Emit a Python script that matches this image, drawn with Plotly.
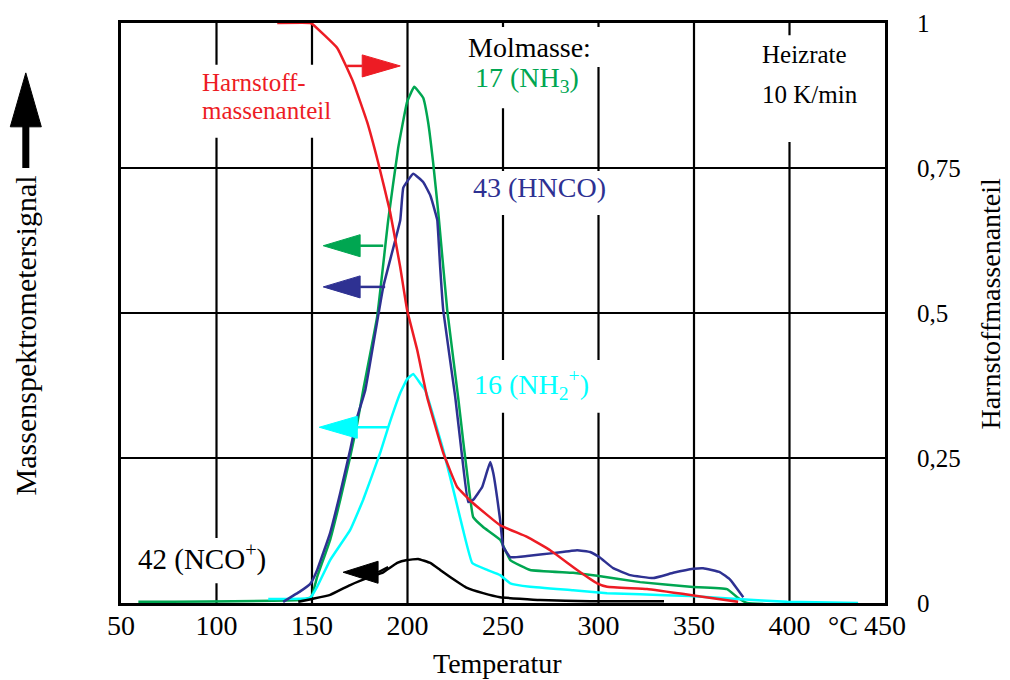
import plotly.graph_objects as go

# ---------------- data ----------------
red_x = [131.8, 149.1, 150.6, 163.2, 171.6, 178.9, 184.6, 190.9, 196.2, 199.8, 205.1, 210.3,
         218.7, 226.0, 234.4, 248.5, 262.6, 274.7, 288.8, 299.3, 304.5, 325.4, 351.6, 373.1]
red_y = [1.0, 1.0, 0.997, 0.957, 0.898, 0.829, 0.760, 0.674, 0.579, 0.505, 0.436, 0.355,
         0.259, 0.200, 0.172, 0.134, 0.114, 0.091, 0.057, 0.034, 0.028, 0.024, 0.012, 0.002]

green_x = [59.1, 143.8, 149.6, 152.7, 159.5, 164.8, 170.0, 173.7, 176.8, 184.1, 189.9, 195.1,
           199.8, 203.5, 208.2, 210.8, 213.4, 216.1, 220.8, 226.5, 229.1, 231.2, 234.4, 239.6,
           248.5, 253.8, 264.2, 286.7, 299.3, 321.8, 348.0, 367.3, 372.6, 377.8, 398.7, 435.9]
green_y = [0.002, 0.005, 0.010, 0.045, 0.109, 0.178, 0.252, 0.310, 0.367, 0.493, 0.660, 0.784,
           0.864, 0.890, 0.871, 0.829, 0.760, 0.674, 0.505, 0.355, 0.281, 0.224, 0.148, 0.131,
           0.109, 0.074, 0.057, 0.052, 0.047, 0.036, 0.028, 0.024, 0.010, 0.000, -0.003, -0.005]

blue_x = [134.9, 143.8, 149.1, 152.7, 159.5, 164.8, 170.0, 173.7, 177.9, 187.3, 196.2, 197.8,
          203.0, 208.2, 211.9, 214.5, 215.6, 217.1, 218.7, 225.0, 228.6, 231.8, 234.4, 239.1,
          243.3, 244.9, 248.5, 250.1, 253.8, 262.6, 276.3, 288.8, 295.6, 300.9, 307.7, 316.6,
          328.6, 339.1, 349.6, 354.8, 363.7, 369.0, 375.8]
blue_y = [0.002, 0.020, 0.033, 0.057, 0.121, 0.190, 0.264, 0.321, 0.367, 0.545, 0.660, 0.716,
          0.740, 0.726, 0.703, 0.674, 0.660, 0.579, 0.505, 0.355, 0.252, 0.174, 0.178, 0.200,
          0.243, 0.224, 0.143, 0.097, 0.079, 0.081, 0.086, 0.091, 0.088, 0.078, 0.060, 0.048,
          0.043, 0.052, 0.059, 0.060, 0.053, 0.040, 0.010]

cyan_x = [127.1, 149.1, 152.7, 159.5, 170.0, 176.8, 185.7, 189.9, 196.2, 199.8, 203.0, 206.6,
          209.3, 218.7, 224.0, 229.1, 233.9, 241.7, 248.5, 253.8, 264.2, 286.7, 304.5, 321.8,
          348.0, 372.6, 398.7, 435.9]
cyan_y = [0.007, 0.009, 0.028, 0.074, 0.126, 0.178, 0.259, 0.303, 0.362, 0.386, 0.395, 0.379,
          0.367, 0.264, 0.195, 0.126, 0.069, 0.057, 0.048, 0.034, 0.028, 0.022, 0.017, 0.015,
          0.012, 0.007, 0.002, 0.000]

black_x = [142.8, 150.1, 159.5, 170.0, 180.5, 187.3, 194.6, 199.8, 205.6, 211.9, 217.1, 222.3,
           231.2, 239.6, 248.5, 269.5, 295.6, 334.3]
black_y = [0.002, 0.007, 0.014, 0.031, 0.045, 0.053, 0.069, 0.074, 0.076, 0.069, 0.057, 0.045,
           0.026, 0.017, 0.010, 0.005, 0.003, 0.003]

x_ticks = [50, 100, 150, 200, 250, 300, 350, 400, 450]
x_ticktext = ["50", "100", "150", "200", "250", "300", "350", "400", "450"]
y2_ticks = [0, 0.25, 0.5, 0.75, 1]
y2_ticktext = ["0", "0,25", "0,5", "0,75", "1"]

RED = "#ED1C24"
GREEN = "#00A651"
BLUE = "#2E3192"
CYAN = "#00FFFF"
BLACK = "#000000"
FONT = "Liberation Serif, Times New Roman, serif"

fig = go.Figure()

series = [
    (green_x, green_y, GREEN, "y"),
    (cyan_x, cyan_y, CYAN, "y"),
    (blue_x, blue_y, BLUE, "y"),
    (black_x, black_y, BLACK, "y"),
    (red_x, red_y, RED, "y2"),
]
for xs, ys, col, ax in series:
    fig.add_trace(go.Scatter(x=xs, y=ys, mode="lines", yaxis=ax,
                             line=dict(color=col, width=2.5, shape="spline", smoothing=0.3),
                             showlegend=False, hoverinfo="skip"))

shapes = []
# grid lines
for xv in x_ticks[1:-1]:
    shapes.append(dict(type="line", xref="x", yref="y", x0=xv, x1=xv, y0=0, y1=1,
                       line=dict(color="black", width=2.2), layer="below"))
for yv in y2_ticks[1:-1]:
    shapes.append(dict(type="line", xref="x", yref="y", x0=50, x1=450, y0=yv, y1=yv,
                       line=dict(color="black", width=2.2), layer="below"))
# white gaps in the grid behind the labels
gaps = [
    (91.5, 162.2, 0.802, 0.928),
    (230.2, 301.9, 0.924, 0.993),
    (230.2, 295.6, 0.853, 0.924),
    (382.0, 439.5, 0.795, 0.979),
    (230.2, 311.3, 0.669, 0.745),
    (230.2, 302.5, 0.328, 0.419),
    (54.9, 133.4, 0.034, 0.112),
]
for x0, x1, y0, y1 in gaps:
    shapes.append(dict(type="rect", xref="x", yref="y", x0=x0, x1=x1, y0=y0, y1=y1,
                       fillcolor="white", line=dict(width=0), layer="below"))

# arrows: (tail_x, tail_y, base_x, tip_x, y, colour)
arrows = [
    (168.4, 0.926, 176.3, 196.2, 0.926, RED),
    (187.3, 0.616, 175.2, 155.9, 0.616, GREEN),
    (188.3, 0.545, 175.2, 155.9, 0.545, BLUE),
    (189.9, 0.303, 173.7, 153.8, 0.303, CYAN),
    (189.9, 0.062, 184.6, 166.3, 0.053, BLACK),
]
hh = 0.019
for tx, ty, bx, px, yv, col in arrows:
    shapes.append(dict(type="line", xref="x", yref="y", x0=tx, y0=ty, x1=bx, y1=yv,
                       line=dict(color=col, width=2.5)))
    shapes.append(dict(type="path", xref="x", yref="y",
                       path=f"M{bx},{yv - hh} L{px},{yv} L{bx},{yv + hh} Z",
                       fillcolor=col, line=dict(color=col, width=1)))

# big up arrow at the left
shapes.append(dict(type="path", xref="paper", yref="paper",
                   path="M-0.1449,0.821 L-0.1246,0.914 L-0.1043,0.821 Z",
                   fillcolor="black", line=dict(color="black", width=1)))
shapes.append(dict(type="rect", xref="paper", yref="paper",
                   x0=-0.1292, x1=-0.1200, y0=0.750, y1=0.823,
                   fillcolor="black", line=dict(width=0)))

ann = []
def text(x, y, s, col, size, xanchor="left", xref="x", yref="y", angle=0):
    ann.append(dict(x=x, y=y, xref=xref, yref=yref, text=s, showarrow=False,
                    xanchor=xanchor, yanchor="middle", textangle=angle,
                    font=dict(family=FONT, size=size, color=col)))

text(91.6, 0.898, "Harnstoff-", RED, 25)
text(91.6, 0.850, "massenanteil", RED, 25)
text(230.6, 0.957, "Molmasse:", BLACK, 28)
text(234.3, 0.902, "17 (NH<sub>3</sub>)", GREEN, 28)
text(233.2, 0.716, "43 (HNCO)", BLUE, 28)
text(233.8, 0.376, "16 (NH<sub>2</sub><sup>+</sup>)", CYAN, 28)
text(58.0, 0.078, "42 (NCO<sup>+</sup>)", BLACK, 29)
text(384.3, 0.945, "Heizrate", BLACK, 25)
text(384.3, 0.876, "10 K/min", BLACK, 25)
text(428, -0.038, "°C", BLACK, 28, xanchor="center", yref="paper")
text(0.4925, -0.104, "Temperatur", BLACK, 28, xanchor="center", xref="paper", yref="paper")
text(-0.1252, 0.462, "Massenspektrometersignal", BLACK, 30, xanchor="center",
     xref="paper", yref="paper", angle=-90)
text(1.138, 0.517, "Harnstoffmassenanteil", BLACK, 28, xanchor="center",
     xref="paper", yref="paper", angle=-90)

fig.update_layout(
    width=1010, height=680,
    margin=dict(l=121, r=125, t=23, b=77, autoexpand=False),
    plot_bgcolor="white", paper_bgcolor="white",
    font=dict(family=FONT, color="black"),
    shapes=shapes, annotations=ann,
    xaxis=dict(range=[50, 450], tickvals=x_ticks, ticktext=x_ticktext,
               tickfont=dict(size=28), showgrid=False, zeroline=False, automargin=False,
               showline=True, linecolor="black", linewidth=2.5, mirror=True, ticks="",
               ticklabelstandoff=-4),
    yaxis=dict(range=[0, 1], showticklabels=False, showgrid=False, zeroline=False,
               automargin=False,
               showline=True, linecolor="black", linewidth=2.5, mirror=True, ticks=""),
    yaxis2=dict(range=[0, 1], overlaying="y", side="right", tickvals=y2_ticks,
                ticktext=y2_ticktext, tickfont=dict(size=25), showgrid=False,
                automargin=False,
                zeroline=False, showline=False, ticks="", ticklabelstandoff=31),
)

fig.write_html("out.html", config={"displayModeBar": False},
               post_script="document.body.style.margin='0';document.body.style.padding='0';")
